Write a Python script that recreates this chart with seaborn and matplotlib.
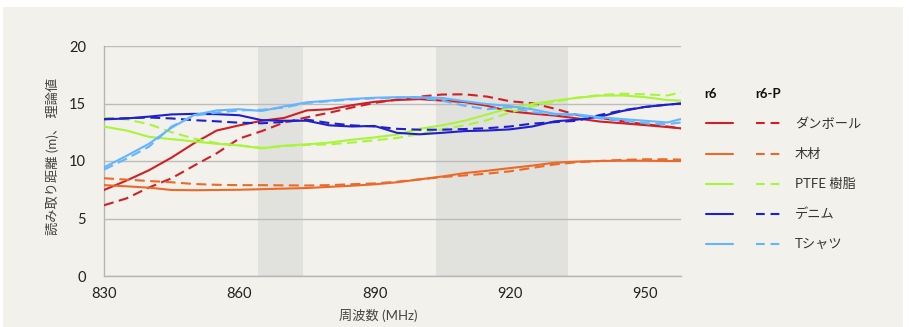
import numpy as np
import pandas as pd
import matplotlib
matplotlib.use('Agg')
import matplotlib.pyplot as plt
from matplotlib.lines import Line2D
from matplotlib.patches import Rectangle
import seaborn as sns

sns.set_theme(style='white')
plt.rcParams['font.family'] = ['Lato', 'Noto Sans CJK JP', 'DejaVu Sans']

freq = [830, 835, 840, 845, 850, 855, 860, 865, 870, 875, 880, 885, 890, 895,
        900, 905, 910, 915, 920, 925, 930, 935, 940, 945, 950, 955, 958]

materials = ['ダンボール', '木材', 'PTFE 樹脂', 'デニム', 'Tシャツ']
colors = ['#cf2027', '#ea6a2a', '#a8f53c', '#2020c8', '#63b5ff']

# r6 (solid)
cardboard_r6 = [7.48, 8.3, 9.2, 10.3, 11.55, 12.65, 13.1, 13.5, 13.75, 14.4, 14.5, 14.85, 15.15, 15.3,
                15.38, 15.25, 15.12, 14.8, 14.32, 14.12, 13.95, 13.7, 13.43, 13.28, 13.12, 12.95, 12.84]
wood_r6 = [7.9, 7.8, 7.68, 7.48, 7.46, 7.48, 7.5, 7.55, 7.6, 7.65, 7.75, 7.85, 7.97, 8.15,
           8.4, 8.65, 8.95, 9.15, 9.38, 9.6, 9.85, 9.95, 10.0, 10.03, 10.03, 10.0, 10.0]
ptfe_r6 = [12.99, 12.65, 12.1, 11.9, 11.7, 11.5, 11.35, 11.1, 11.33, 11.45, 11.6, 11.85, 12.05, 12.3,
           12.8, 13.1, 13.5, 14.05, 14.6, 14.95, 15.25, 15.5, 15.68, 15.7, 15.55, 15.3, 15.25]
denim_r6 = [13.62, 13.7, 13.86, 14.05, 14.1, 14.07, 13.98, 13.55, 13.5, 13.5, 13.1, 13.0, 13.05, 12.45,
            12.32, 12.45, 12.6, 12.65, 12.75, 13.0, 13.45, 13.6, 13.85, 14.35, 14.7, 14.9, 15.0]
tshirt_r6 = [9.45, 10.45, 11.5, 12.9, 14.0, 14.4, 14.5, 14.35, 14.75, 15.1, 15.25, 15.4, 15.5, 15.55,
             15.55, 15.48, 15.2, 14.95, 14.78, 14.5, 14.1, 14.05, 13.8, 13.65, 13.5, 13.35, 13.65]

# r6-P (dashed)
cardboard_r6p = [6.15, 6.75, 7.7, 8.5, 9.6, 10.67, 11.95, 12.6, 13.35, 13.8, 14.2, 14.65, 15.05, 15.35,
                 15.6, 15.78, 15.8, 15.6, 15.2, 15.02, 14.55, 14.0, 13.75, 13.45, 13.2, 13.0, 12.84]
wood_r6p = [8.5, 8.38, 8.26, 8.15, 8.0, 7.93, 7.9, 7.9, 7.88, 7.87, 7.9, 7.98, 8.05, 8.2,
            8.4, 8.6, 8.75, 8.9, 9.1, 9.4, 9.7, 9.9, 10.0, 10.1, 10.15, 10.15, 10.12]
ptfe_r6p = [13.75, 13.62, 13.2, 12.5, 11.95, 11.55, 11.35, 11.15, 11.3, 11.4, 11.45, 11.6, 11.8, 12.0,
            12.35, 12.75, 13.1, 13.55, 14.2, 14.75, 15.15, 15.5, 15.74, 15.85, 15.8, 15.7, 15.97]
denim_r6p = [13.65, 13.72, 13.78, 13.7, 13.55, 13.45, 13.33, 13.28, 13.4, 13.6, 13.3, 13.1, 13.0, 12.8,
             12.72, 12.72, 12.78, 12.85, 13.0, 13.25, 13.38, 13.5, 14.0, 14.4, 14.7, 14.9, 15.0]
tshirt_r6p = [9.25, 10.2, 11.25, 13.0, 13.95, 14.2, 14.4, 14.45, 14.65, 15.05, 15.2, 15.35, 15.45, 15.5,
              15.5, 15.25, 14.8, 14.5, 14.7, 14.25, 14.05, 13.95, 13.7, 13.5, 13.3, 13.2, 13.35]

bands = [(864.2, 874.2), (903.6, 933.0)]

r6 = [cardboard_r6, wood_r6, ptfe_r6, denim_r6, tshirt_r6]
r6p = [cardboard_r6p, wood_r6p, ptfe_r6p, denim_r6p, tshirt_r6p]

rows = []
for name, a, b in zip(materials, r6, r6p):
    for f, v in zip(freq, a):
        rows.append((f, v, name, 'r6'))
    for f, v in zip(freq, b):
        rows.append((f, v, name, 'r6-P'))
df = pd.DataFrame(rows, columns=['freq', 'dist', 'material', 'model'])

W, H = 909, 327
fig = plt.figure(figsize=(W / 100, H / 100), dpi=100, facecolor='white')
fig.add_artist(Rectangle((3 / W, 0), 900 / W, 1 - 7 / H, transform=fig.transFigure,
                         facecolor='#f2f1eb', edgecolor='none', zorder=-10))
ax = fig.add_axes([104 / W, 1 - 276 / H, 577 / W, 230 / H])
ax.set_facecolor('#f2f1eb')

for lo, hi in bands:
    ax.axvspan(lo, hi, color='#e1e1dd', zorder=0, lw=0)

sns.lineplot(data=df, x='freq', y='dist', hue='material', style='model',
             hue_order=materials, palette=colors, style_order=['r6', 'r6-P'],
             dashes={'r6': '', 'r6-P': (4.8, 2.6)}, linewidth=1.5,
             legend=False, ax=ax, zorder=3)

ax.set_xlim(830, 958)
ax.set_ylim(0, 20)
ax.set_xticks([830, 860, 890, 920, 950])
ax.set_yticks([0, 5, 10, 15, 20])
ax.yaxis.grid(True, color='#bcbcbc', lw=1)
ax.xaxis.grid(False)
for s in ['top', 'right']:
    ax.spines[s].set_visible(False)
for s in ['left', 'bottom']:
    ax.spines[s].set_color('#b5b5b5')
    ax.spines[s].set_linewidth(1)
ax.tick_params(axis='x', length=4, color='#b5b5b5', pad=4, labelsize=10.5, labelcolor='#222222')
ax.tick_params(axis='y', length=0, pad=13, labelsize=10.5, labelcolor='#222222')

ax.set_xlabel('周波数 (MHz)', fontsize=9.5, color='#444444')
ax.xaxis.set_label_coords((378 - 104) / 577, -(309 - 276) / 230)
ax.set_ylabel('読み取り距離 (m)、 理論値', fontsize=9.5, color='#444444')
ax.yaxis.set_label_coords(-(104 - 59) / 577, 0.52)

# legend
def fx(px):
    return px / W

def fy(py):
    return 1 - py / H

fig.text(fx(704), fy(94), 'r6', fontsize=9.5, fontweight='bold', va='center', color='#111111')
fig.text(fx(755), fy(94), 'r6-P', fontsize=9.5, fontweight='bold', va='center', color='#111111')
row_y = [123.5, 154, 184, 214, 244]
for name, c, yy in zip(materials, colors, row_y):
    fig.add_artist(Line2D([fx(706), fx(733)], [fy(yy), fy(yy)], color=c, lw=1.5,
                          transform=fig.transFigure))
    fig.add_artist(Line2D([fx(756), fx(785)], [fy(yy), fy(yy)], color=c, lw=1.5,
                          dashes=(4.2, 2.8), transform=fig.transFigure))
    fig.text(fx(795), fy(yy), name, fontsize=9.5, va='center', color='#333333')

fig.savefig('out.png', dpi=100, facecolor='white')
